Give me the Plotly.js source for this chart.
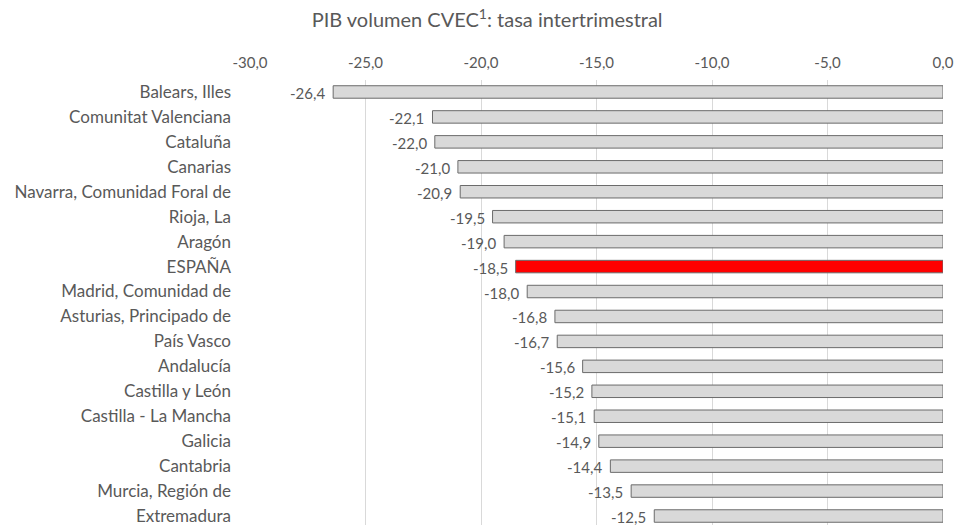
<!DOCTYPE html>
<html><head><meta charset="utf-8">
<script src="https://cdn.plot.ly/plotly-3.0.1.min.js"></script>
<style>html,body{margin:0;padding:0;background:#fff}</style>
</head><body><div id="chart" style="width:957px;height:525px"></div>
<script>
const regions = ["Balears, Illes","Comunitat Valenciana","Cataluña","Canarias","Navarra, Comunidad Foral de","Rioja, La","Aragón","ESPAÑA","Madrid, Comunidad de","Asturias, Principado de","País Vasco","Andalucía","Castilla y León","Castilla - La Mancha","Galicia","Cantabria","Murcia, Región de","Extremadura"];
const values = [-26.4,-22.1,-22.0,-21.0,-20.9,-19.5,-19.0,-18.5,-18.0,-16.8,-16.7,-15.6,-15.2,-15.1,-14.9,-14.4,-13.5,-12.5];
const xTicks = [-30,-25,-20,-15,-10,-5,0];
const highlight = "ESPAÑA";

const fmt = v => v.toFixed(1).replace('.', ',');
const colors = regions.map(r => r === highlight ? '#ff0000' : '#d9d9d9');
const grey = '#595959';
const FONT = 'Lato, sans-serif';

const trace = {
  type: 'bar', orientation: 'h',
  y: regions.map((_, i) => i), x: values,
  width: 0.5,
  marker: {color: colors, line: {color: '#6b6b6b', width: 1}},
  hoverinfo: 'skip'
};
const annotations = values.map((v, i) => ({
  x: v, y: i, xref: 'x', yref: 'y', text: fmt(v), showarrow: false,
  xanchor: 'right', yanchor: 'middle', xshift: -6, yshift: -1,
  font: {family: FONT, size: 15, color: grey}
}));
const layout = {
  width: 957, height: 525,
  margin: {l: 250, r: 14, t: 80, b: 0},
  paper_bgcolor: '#fff', plot_bgcolor: '#fff',
  showlegend: false,
  font: {family: FONT, color: grey, size: 15},
  annotations: annotations,
  title: {text: 'PIB volumen CVEC<sup>1</sup>: tasa intertrimestral', x: 0.509, xref: 'container', xanchor: 'center', y: 0.962, yanchor: 'middle', font: {size: 20, color: grey, family: FONT}},
  xaxis: {side: 'top', range: [-30, 0], tickvals: xTicks, ticktext: xTicks.map(fmt), showgrid: true, gridcolor: '#d9d9d9', gridwidth: 1, zeroline: false, showline: false, ticks: '', ticklabelstandoff: 8, tickfont: {size: 15, color: grey, family: FONT}},
  yaxis: {range: [17.36, -0.48], tickvals: regions.map((_, i) => i), ticktext: regions, ticklabeloverflow: 'allow', showgrid: false, zeroline: false, showline: false, ticks: '', ticklabelstandoff: 18, tickfont: {size: 17, color: grey, family: FONT}}
};
Plotly.newPlot('chart', [trace], layout, {staticPlot: true, displayModeBar: false});
</script></body></html>
